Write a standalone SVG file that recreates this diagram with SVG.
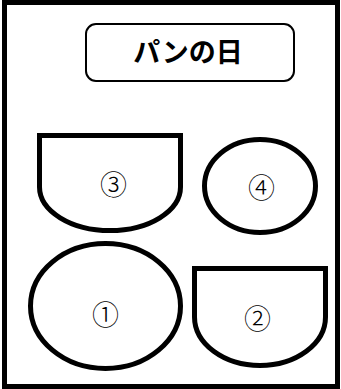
<svg xmlns="http://www.w3.org/2000/svg" width="341" height="389" viewBox="0 0 341 389">
<style>
.shape{fill:#fff;stroke:#000;stroke-width:5}
.num{font-family:"Noto Sans CJK JP",sans-serif;font-size:27px;font-weight:300;text-anchor:middle;dominant-baseline:central;fill:#000}
.title{font-family:"Noto Sans CJK JP",sans-serif;font-size:27px;font-weight:bold;text-anchor:middle;fill:#000}
</style>
<rect x="0" y="0" width="341" height="389" fill="#fff"/>
<rect id="frame" x="4.5" y="2.5" width="333" height="384" fill="none" stroke="#000" stroke-width="5"/>
<g id="title">
<rect x="86" y="24" width="208" height="57" rx="10" ry="10" fill="#fff" stroke="#000" stroke-width="2"/>
<text class="title" x="188" y="62">パンの日</text>
</g>
<g id="n3">
<path class="shape" d="M39.5,135.5 H180.5 V187 A70.5,43.5 0 0 1 39.5,187 Z"/>
<text class="num" x="113.5" y="183.5">③</text>
</g>
<g id="n4">
<ellipse class="shape" cx="260" cy="186" rx="55.5" ry="46.5"/>
<text class="num" x="261.5" y="186.5">④</text>
</g>
<g id="n1">
<ellipse class="shape" cx="105.5" cy="306" rx="75" ry="62.5"/>
<text class="num" x="105.5" y="313">①</text>
</g>
<g id="n2">
<path class="shape" d="M194.5,268.5 H325.5 V317 A65.5,48.5 0 0 1 194.5,317 Z"/>
<text class="num" x="257.5" y="317.5">②</text>
</g>
<g id="connectors"></g>
</svg>
